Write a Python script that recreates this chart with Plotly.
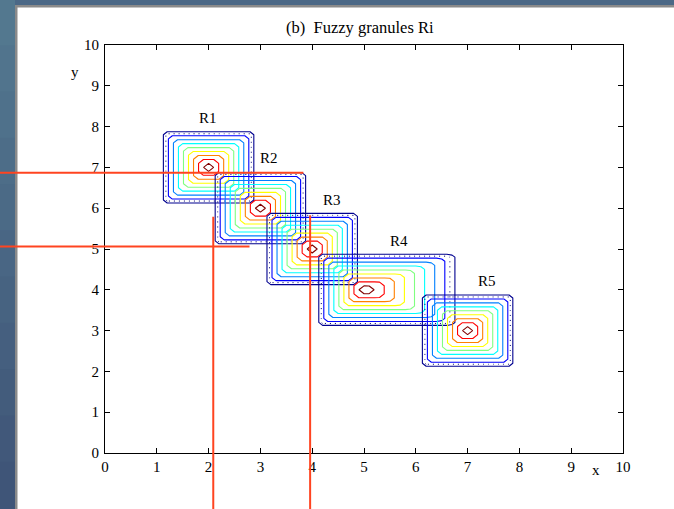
import numpy as np
import plotly.graph_objects as go

# ---- data: fuzzy granules Ri (peak position and support half-widths) ----
names = ["R1", "R2", "R3", "R4", "R5"]
cx = [2.0, 3.0, 4.0, 5.0, 7.0]
cy = [7.0, 6.0, 5.0, 4.0, 3.0]
wx_left = [0.97, 0.97, 0.97, 0.97, 0.97]
wx_right = [0.97, 0.97, 0.97, 1.95, 0.97]
wy = [0.97, 0.97, 0.97, 0.97, 0.97]
levels = [0.1, 0.9, 0.1]  # start, end, step
dot_level = 0.15

label_x = [1.98, 3.17, 4.38, 5.68, 7.37]
label_y = [8.21, 7.23, 6.20, 5.20, 4.22]

# red guide lines (data units)
red_h_y = [6.87, 5.06]
red_h_x0 = [-2.2, -2.2]
red_h_x1 = [3.83, 2.79]
red_v_x = [2.09, 3.96]
red_v_y0 = [5.79, 5.83]
red_v_y1 = [-1.6, -1.6]

x_ticks = list(range(0, 11))
y_ticks = list(range(0, 11))

# ---- grid ----
xs = np.round(np.arange(0, 10.0001, 0.1), 3)
ys = np.round(np.arange(0, 10.0001, 0.1), 3)
X, Y = np.meshgrid(xs, ys)

jet = [[0.0, "rgb(0,0,143)"], [0.125, "rgb(0,0,255)"], [0.375, "rgb(0,255,255)"],
       [0.625, "rgb(255,255,0)"], [0.875, "rgb(255,0,0)"], [1.0, "rgb(128,0,0)"]]

fig = go.Figure()
for i in range(len(names)):
    dx = X - cx[i]
    mux = np.where(dx < 0, 1 + dx / wx_left[i], 1 - dx / wx_right[i])
    muy = 1 - np.abs(Y - cy[i]) / wy[i]
    Z = np.clip(np.minimum(mux, muy), 0, None)
    fig.add_trace(go.Contour(
        x=xs, y=ys, z=Z,
        contours=dict(start=levels[0], end=levels[1], size=levels[2],
                      coloring="lines", showlabels=False),
        colorscale=jet, zauto=False, zmin=levels[0], zmax=levels[1],
        showscale=False, line=dict(width=1.1, smoothing=0),
        hoverinfo="skip", name=names[i]))
    fig.add_trace(go.Contour(
        x=xs, y=ys, z=Z,
        contours=dict(start=dot_level, end=dot_level, size=1,
                      coloring="lines", showlabels=False),
        colorscale=[[0, "rgb(0,0,120)"], [1, "rgb(0,0,120)"]],
        showscale=False, line=dict(width=1, smoothing=0, dash="1px,4px"),
        hoverinfo="skip", name=names[i] + " grid"))

FONT = "Liberation Serif, Times New Roman, serif"

shapes = []
# slide background strips (pixel -> paper conversion for decoration)
W, H = 674, 509
L, R, T, B = 105, 51, 45, 56
pw, ph = W - L - R, H - T - B
def px(p):
    return (p - L) / pw
def py(p):
    return (H - B - p) / ph

band_cols = ["#53788f", "#51748d", "#4f718b", "#4d6d88", "#4b6a86", "#496684",
             "#476381", "#455f7f", "#435c7c", "#41587a", "#3f5578"]
nb = len(band_cols)
for k, c in enumerate(band_cols):
    shapes.append(dict(type="rect", xref="paper", yref="paper", layer="below",
                       x0=px(0), x1=px(15.5), y0=py(H * k / nb - 1), y1=py(H * (k + 1) / nb + 1),
                       fillcolor=c, line=dict(width=0)))
shapes.append(dict(type="rect", xref="paper", yref="paper", layer="below",
                   x0=px(15), x1=px(W), y0=py(0), y1=py(5),
                   fillcolor="#4b6886", line=dict(width=0)))
shapes.append(dict(type="rect", xref="paper", yref="paper", layer="below",
                   x0=px(15), x1=px(17.5), y0=py(H), y1=py(5),
                   fillcolor="#8a8a8a", line=dict(width=0)))
shapes.append(dict(type="rect", xref="paper", yref="paper", layer="below",
                   x0=px(15), x1=px(W), y0=py(7.5), y1=py(5),
                   fillcolor="#8a8a8a", line=dict(width=0)))

xr = [0, 10]
yr = [0, 10]
def dxp(v):
    return (v - xr[0]) / (xr[1] - xr[0])
def dyp(v):
    return (v - yr[0]) / (yr[1] - yr[0])

red = "rgb(255,68,32)"
for k in range(len(red_h_y)):
    shapes.append(dict(type="line", xref="paper", yref="paper",
                       x0=dxp(red_h_x0[k]), x1=dxp(red_h_x1[k]),
                       y0=dyp(red_h_y[k]), y1=dyp(red_h_y[k]),
                       line=dict(color=red, width=2)))
for k in range(len(red_v_x)):
    shapes.append(dict(type="line", xref="paper", yref="paper",
                       x0=dxp(red_v_x[k]), x1=dxp(red_v_x[k]),
                       y0=dyp(red_v_y0[k]), y1=dyp(red_v_y1[k]),
                       line=dict(color=red, width=2)))

annotations = []
for i in range(len(names)):
    annotations.append(dict(x=label_x[i], y=label_y[i], xref="x", yref="y",
                            text=names[i], showarrow=False,
                            xanchor="center", yanchor="middle",
                            font=dict(family=FONT, size=15, color="black")))
annotations.append(dict(x=px(596), y=py(470), xref="paper", yref="paper", text="x",
                        showarrow=False, xanchor="center", yanchor="middle",
                        font=dict(family=FONT, size=15, color="black")))
annotations.append(dict(x=px(75), y=py(72), xref="paper", yref="paper", text="y",
                        showarrow=False, xanchor="center", yanchor="middle",
                        font=dict(family=FONT, size=15, color="black")))
annotations.append(dict(x=px(360), y=py(28), xref="paper", yref="paper",
                        text="(b)  Fuzzy granules Ri", showarrow=False,
                        xanchor="center", yanchor="middle",
                        font=dict(family=FONT, size=16.5, color="black")))

axis_common = dict(showgrid=False, zeroline=False, showline=True, linecolor="black",
                   linewidth=1, mirror="ticks", ticks="inside", ticklen=5,
                   tickcolor="black", tickwidth=1,
                   tickfont=dict(family=FONT, size=15, color="black"))

fig.update_layout(
    width=W, height=H,
    margin=dict(l=L, r=R, t=T, b=B),
    paper_bgcolor="white", plot_bgcolor="white",
    showlegend=False,
    shapes=shapes, annotations=annotations,
    xaxis=dict(range=xr, tickvals=x_ticks, **axis_common),
    yaxis=dict(range=yr, tickvals=y_ticks, ticklabelstandoff=2, **axis_common),
)

fig.write_html("out.html")
